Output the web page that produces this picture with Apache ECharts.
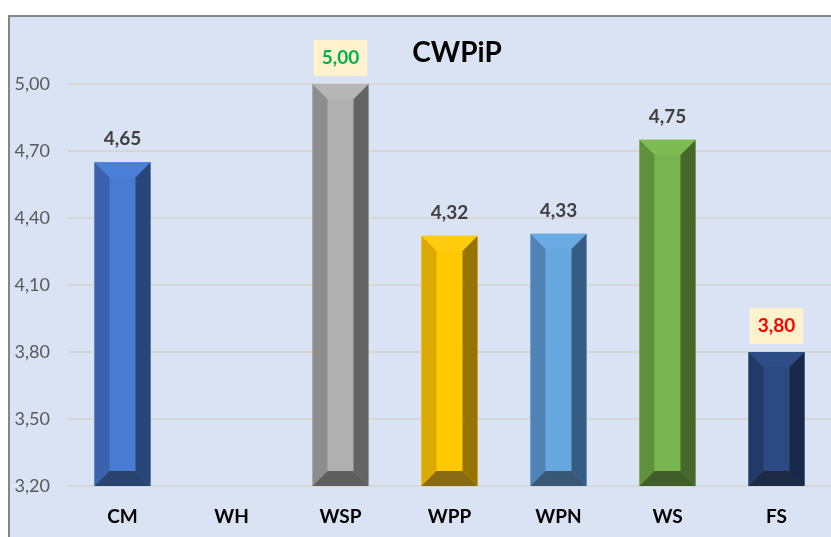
<!DOCTYPE html>
<html>
<head>
<meta charset="utf-8">
<script src="https://cdn.jsdelivr.net/npm/echarts@6/dist/echarts.min.js"></script>
<style>
	html,body{margin:0;padding:0;background:#fff}
	#main{width:831px;height:537px}
</style>
</head>
<body>
<div id="main"></div>
<script>
var categories = ['CM', 'WH', 'WSP', 'WPP', 'WPN', 'WS', 'FS'];
var scores = [4.65, null, 5.00, 4.32, 4.33, 4.75, 3.80];
var yTicks = [3.20, 3.50, 3.80, 4.10, 4.40, 4.70, 5.00];

// kolory scianek: przod, lewa, prawa, gora, dol
var palette = [
	['#4a7bd2', '#3a62ad', '#284679', '#4c7fd8', '#2b436f'],
	['#999999', '#888888', '#666666', '#a0a0a0', '#555555'],
	['#b0b0b0', '#8d8d8d', '#646464', '#b6b6b6', '#5e5e5e'],
	['#ffc800', '#dca900', '#977400', '#ffcc10', '#876a12'],
	['#67a8e1', '#4f83b6', '#365c83', '#6aabe3', '#3a5775'],
	['#7ab64f', '#5f913b', '#46692b', '#7fbb53', '#3f5e29'],
	['#2b4a81', '#213a68', '#172848', '#2d4d86', '#1d2a44']
];
var FONT = 'Lato, "Open Sans", sans-serif';
var barWidth = 56, bevel = 15;
var yMin = yTicks[0], yMax = yTicks[yTicks.length - 1];

var vals = scores.filter(function (v) { return v != null; });
var best = Math.max.apply(null, vals), worst = Math.min.apply(null, vals);

function fmt(v) { return v.toFixed(2).replace('.', ','); }

function renderItem(params, api) {
	var v = api.value(1);
	if (v == null || isNaN(v)) return;
	var i = params.dataIndex;
	var c = palette[i];
	var top = api.coord([api.value(0), v]);
	var base = api.coord([api.value(0), yMin]);
	var x0 = top[0] - barWidth / 2, x1 = top[0] + barWidth / 2;
	var y0 = top[1], y1 = base[1];
	var ix0 = x0 + bevel, ix1 = x1 - bevel, iy0 = y0 + bevel, iy1 = y1 - bevel;
	function poly(pts, fill) {
		return {type: 'polygon', shape: {points: pts}, style: {fill: fill}};
	}
	var labelStyle = {
		text: fmt(v), x: top[0], y: y0 - 23, align: 'center', verticalAlign: 'middle',
		font: 'bold 19px ' + FONT, fill: '#404040'
	};
	if (v === best || v === worst) {
		labelStyle.y = y0 - 26;
		labelStyle.fill = v === best ? '#00b050' : '#ff0000';
		labelStyle.backgroundColor = '#fff2cc';
		labelStyle.padding = [9, 8, 8, 8];
	}
	return {
		type: 'group',
		children: [
			poly([[x0, y0], [x1, y0], [x1, y1], [x0, y1]], c[0]),
			poly([[x0, y0], [ix0, iy0], [ix0, iy1], [x0, y1]], c[1]),
			poly([[x1, y0], [ix1, iy0], [ix1, iy1], [x1, y1]], c[2]),
			poly([[x0, y0], [x1, y0], [ix1, iy0], [ix0, iy0]], c[3]),
			poly([[x0, y1], [x1, y1], [ix1, iy1], [ix0, iy1]], c[4]),
			{type: 'text', style: labelStyle}
		]
	};
}

var myChart = echarts.init(document.getElementById('main'));
var option = {
	backgroundColor: '#ffffff',
	animation: false,
	graphic: [{
		type: 'rect', z: -10, silent: true,
		shape: {x: 9, y: 16, width: 900, height: 600},
		style: {fill: '#dae3f3', stroke: '#858585', lineWidth: 2}
	}],
	title: {
		text: 'CWPiP', left: 452, top: 34, textAlign: 'center',
		textStyle: {fontFamily: FONT, fontWeight: 'bold', fontSize: 28, color: '#000'}
	},
	grid: {left: 68, top: 84, width: 772, height: 402, containLabel: false},
	xAxis: {
		type: 'category',
		data: categories,
		axisLine: {show: false},
		axisTick: {show: false},
		axisLabel: {
			margin: 21, fontFamily: FONT, fontWeight: 'bold', fontSize: 19, color: '#000'
		}
	},
	yAxis: {
		type: 'value',
		min: yMin, max: yMax, interval: 0.3,
		axisLine: {show: false},
		axisTick: {show: false},
		axisLabel: {
			margin: 18, fontFamily: FONT, fontSize: 18, color: '#595959',
			formatter: function (v) { return fmt(v); }
		},
		splitLine: {lineStyle: {color: '#d6d6d6', width: 2}}
	},
	series: [{
		type: 'custom',
		renderItem: renderItem,
		data: scores.map(function (v, i) { return [i, v]; }),
		encode: {x: 0, y: 1},
		clip: false
	}]
};
myChart.setOption(option);
</script>
</body>
</html>
